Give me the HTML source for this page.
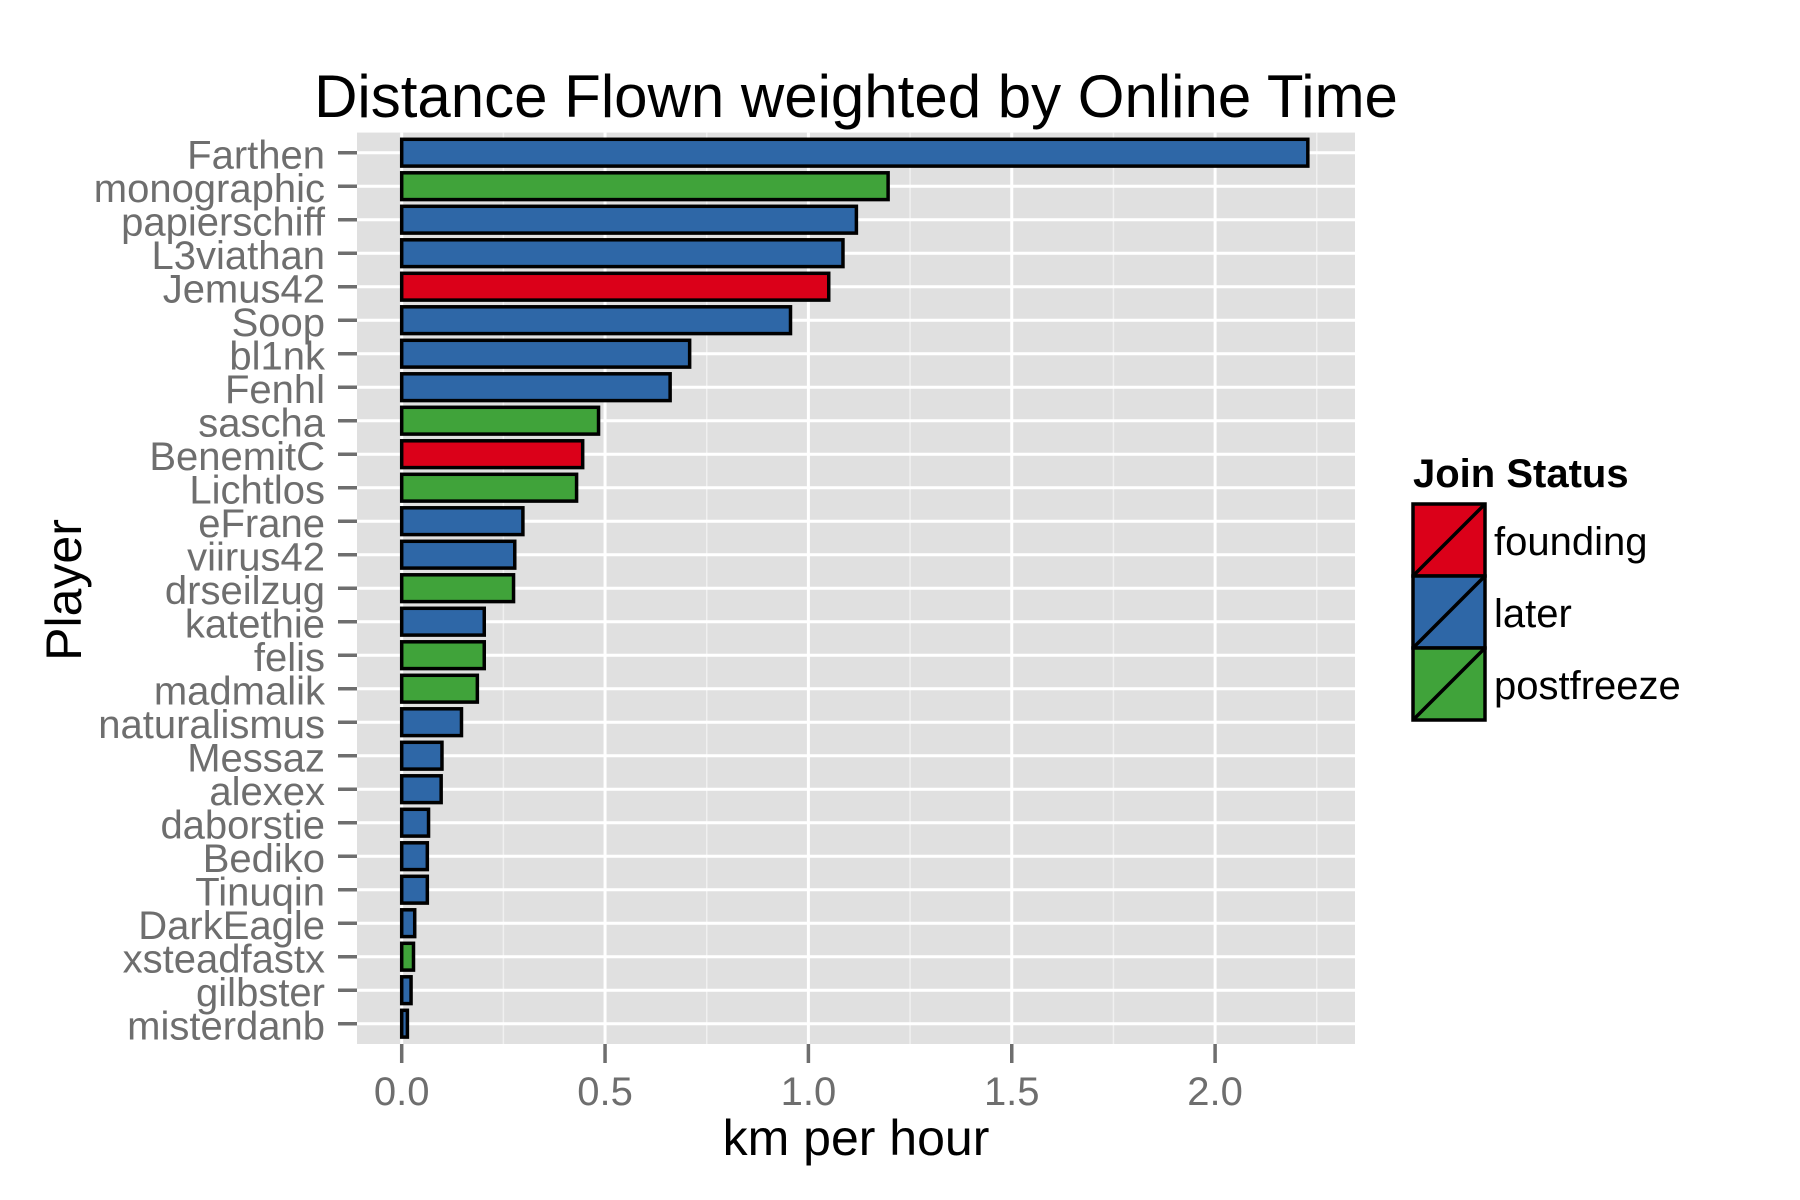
<!DOCTYPE html>
<html><head><meta charset="utf-8"><style>
html,body{margin:0;padding:0;background:#fff}
svg{display:block;font-family:"Liberation Sans",Arial,sans-serif}
</style></head><body>
<svg id="chart" width="1800" height="1200" xmlns="http://www.w3.org/2000/svg">
<rect width="1800" height="1200" fill="#fff"/>
<g id="panel"></g>
<g id="bars"></g>
<g id="yaxis"></g>
<g id="xaxis"></g>
<text x="856" y="117" font-size="60" text-anchor="middle" fill="#000">Distance Flown weighted by Online Time</text>
<text x="856" y="1155" font-size="50" text-anchor="middle" fill="#000">km per hour</text>
<text transform="translate(81,590) rotate(-90)" font-size="50" text-anchor="middle" fill="#000">Player</text>
<g id="legend">
<text x="1413" y="487" font-size="40" font-weight="bold" fill="#000">Join Status</text>
</g>
</svg>
<script>
const players = ["Farthen","monographic","papierschiff","L3viathan","Jemus42","Soop","bl1nk","Fenhl","sascha","BenemitC","Lichtlos","eFrane","viirus42","drseilzug","katethie","felis","madmalik","naturalismus","Messaz","alexex","daborstie","Bediko","Tinuqin","DarkEagle","xsteadfastx","gilbster","misterdanb"];
const kmPerHour = [2.228,1.196,1.118,1.085,1.05,0.956,0.708,0.66,0.484,0.445,0.43,0.298,0.278,0.275,0.203,0.203,0.186,0.147,0.099,0.097,0.066,0.063,0.063,0.032,0.029,0.023,0.014];
const status = ["later","postfreeze","later","later","founding","later","later","later","postfreeze","founding","postfreeze","later","later","postfreeze","later","postfreeze","postfreeze","later","later","later","later","later","later","later","postfreeze","later","later"];
const xTicks = [0,0.5,1,1.5,2];
const xTickLabels = ["0.0","0.5","1.0","1.5","2.0"];
const xMinor = [0.25,0.75,1.25,1.75,2.25];
const groups = ["founding","later","postfreeze"];
const colors = {founding:"#DB0019",later:"#2E67A7",postfreeze:"#40A33A"};

const NS="http://www.w3.org/2000/svg";
const PL=357, PR=1355, PT=132.6, PB=1044;
const x0=401.7, unit=406.7;
const xs = v => x0 + v*unit;
const rowStep = 33.5, row0 = 152.7;
const ys = i => row0 + i*rowStep;
function mk(tag, attrs, parent){const e=document.createElementNS(NS,tag);for(const k in attrs)e.setAttribute(k,attrs[k]);parent.appendChild(e);return e;}

const panel=document.getElementById('panel');
const bg=mk('rect',{x:PL,y:PT,width:PR-PL,height:PB-PT,fill:'#E0E0E0'},panel);


xMinor.forEach(v=>{const l=mk('line',{x1:xs(v),x2:xs(v),y1:PT,y2:PB,stroke:'#F0F0F0','stroke-width':1.5},panel);

});
xTicks.forEach(v=>{const l=mk('line',{x1:xs(v),x2:xs(v),y1:PT,y2:PB,stroke:'#fff','stroke-width':3},panel);

});
players.forEach((p,i)=>{const l=mk('line',{x1:PL,x2:PR,y1:ys(i),y2:ys(i),stroke:'#fff','stroke-width':3},panel);

});

const bars=document.getElementById('bars');
const bh=rowStep*0.8;
players.forEach((p,i)=>{
  const w=xs(kmPerHour[i])-xs(0);
  const r=mk('rect',{x:xs(0),y:ys(i)-bh/2,width:w,height:bh,fill:colors[status[i]],stroke:'#000','stroke-width':3.5},bars);
  
  
});

const ya=document.getElementById('yaxis');
players.forEach((p,i)=>{
  const t=mk('line',{x1:338,x2:357,y1:ys(i),y2:ys(i),stroke:'#6E6E6E','stroke-width':3.5},ya);
  
  
  const tx=mk('text',{x:325,y:ys(i)+16,'font-size':40,'text-anchor':'end',fill:'#6E6E6E'},ya);
  tx.textContent=p;
  
  
});
const xa=document.getElementById('xaxis');
xTicks.forEach((v,i)=>{
  const t=mk('line',{x1:xs(v),x2:xs(v),y1:PB,y2:1063,stroke:'#6E6E6E','stroke-width':3.5},xa);
  
  
  const tx=mk('text',{x:xs(v),y:1105,'font-size':40,'text-anchor':'middle',fill:'#6E6E6E'},xa);
  tx.textContent=xTickLabels[i];
  
  
});

const lg=document.getElementById('legend');
groups.forEach((g,i)=>{
  const y=504+i*72;
  const k=mk('g',{},lg);
  
  
  mk('rect',{x:1413,y:y,width:72,height:72,fill:colors[g],stroke:'#000','stroke-width':3.5},k);
  mk('line',{x1:1413,y1:y+72,x2:1485,y2:y,stroke:'#000','stroke-width':3.5},k);
  const tx=mk('text',{x:1494,y:y+51,'font-size':40,fill:'#000'},k);
  tx.textContent=g;
});
</script>
</body></html>
